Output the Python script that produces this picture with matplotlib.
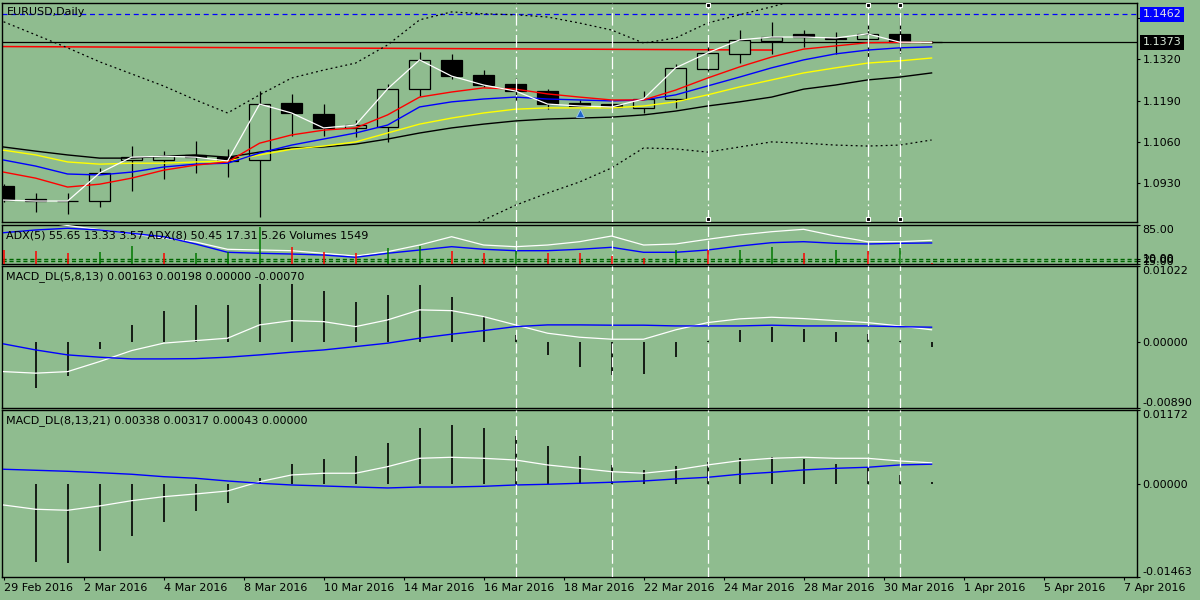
import matplotlib
matplotlib.use('Agg')
import matplotlib.pyplot as plt
import numpy as np

# daily EURUSD candles, 29 Feb 2016 .. 1 Apr 2016
opens = [1.0921, 1.0880, 1.0875, 1.0874, 1.1003, 1.1003, 1.1019, 1.1012, 1.1003, 1.1182,
         1.1148, 1.1104, 1.1107, 1.1227, 1.1318, 1.1271, 1.1242, 1.1220, 1.1182, 1.1179,
         1.1167, 1.1195, 1.1289, 1.1337, 1.1378, 1.1400, 1.1384, 1.1384, 1.1400, 1.1374]
highs = [1.0927, 1.0899, 1.0899, 1.0978, 1.1047, 1.1031, 1.1063, 1.1038, 1.1220, 1.1211,
         1.1179, 1.1129, 1.1242, 1.1343, 1.1337, 1.1286, 1.1261, 1.1227, 1.1192, 1.1186,
         1.1220, 1.1305, 1.1368, 1.1412, 1.1437, 1.1412, 1.1406, 1.1431, 1.1453, 1.1376]
lows = [1.0870, 1.0839, 1.0833, 1.0855, 1.0905, 1.0943, 1.0962, 1.0949, 1.0823, 1.1079,
        1.1079, 1.1075, 1.1060, 1.1204, 1.1258, 1.1233, 1.1186, 1.1164, 1.1170, 1.1164,
        1.1151, 1.1167, 1.1283, 1.1308, 1.1337, 1.1359, 1.1337, 1.1324, 1.1340, 1.1372]
closes = [1.0877, 1.0874, 1.0874, 1.0962, 1.1012, 1.1015, 1.1012, 1.1000, 1.1179, 1.1151,
          1.1104, 1.1113, 1.1227, 1.1318, 1.1267, 1.1239, 1.1220, 1.1179, 1.1173, 1.1170,
          1.1195, 1.1293, 1.1340, 1.1381, 1.1390, 1.1390, 1.1387, 1.1400, 1.1374, 1.1373]

ma_red = [1.0965, 1.0946, 1.0918, 1.0927, 1.0946, 1.0971, 1.0987, 1.0997, 1.1056, 1.1082,
          1.1097, 1.1104, 1.1145, 1.1201, 1.1217, 1.1230, 1.1226, 1.1211, 1.1201, 1.1192,
          1.1192, 1.1223, 1.1261, 1.1296, 1.1327, 1.1352, 1.1362, 1.1372, 1.1373, 1.1373]
ma_blue = [1.1003, 1.0984, 1.0959, 1.0956, 1.0965, 1.0981, 1.0990, 1.0993, 1.1025, 1.1050,
           1.1069, 1.1088, 1.1113, 1.1170, 1.1186, 1.1195, 1.1201, 1.1195, 1.1192, 1.1189,
           1.1192, 1.1208, 1.1236, 1.1264, 1.1293, 1.1318, 1.1337, 1.1349, 1.1356, 1.1359]
ma_yellow = [1.1034, 1.1019, 1.0997, 1.0990, 1.0993, 1.0993, 1.0997, 1.1000, 1.1019, 1.1037,
             1.1047, 1.1060, 1.1088, 1.1116, 1.1135, 1.1151, 1.1163, 1.1167, 1.1167, 1.1167,
             1.1173, 1.1186, 1.1208, 1.1233, 1.1255, 1.1277, 1.1293, 1.1308, 1.1315, 1.1324]
ma_black = [1.1044, 1.1031, 1.1019, 1.1009, 1.1009, 1.1015, 1.1019, 1.1012, 1.1028, 1.1041,
            1.1044, 1.1053, 1.1069, 1.1088, 1.1104, 1.1116, 1.1126, 1.1132, 1.1135, 1.1138,
            1.1145, 1.1157, 1.1173, 1.1186, 1.1201, 1.1226, 1.1239, 1.1255, 1.1264, 1.1277]
band_upper = [1.1438, 1.1397, 1.1356, 1.1312, 1.1274, 1.1236, 1.1192, 1.1151, 1.1208, 1.1261,
              1.1286, 1.1308, 1.1365, 1.1444, 1.1469, 1.1463, 1.1460, 1.1453, 1.1434, 1.1412,
              1.1371, 1.1387, 1.1434, 1.1460, 1.1485, 1.1513, 1.1532, 1.1545, 1.1554, 1.1560]
band_lower = [None, None, None, None, None, None, None, None, None, None,
              None, None, None, 1.0719, 1.0767, 1.0814, 1.0861, 1.0899, 1.0934, 1.0978,
              1.1041, 1.1038, 1.1028, 1.1044, 1.1060, 1.1056, 1.1050, 1.1047, 1.1050, 1.1066]

adx5 = [98, 92, 84, 76, 68, 60, 52.3, 38.3, 36.9, 35.6, 30.6, 25.4, 33.7, 46.5, 62.5,
        46.5, 43.3, 46.5, 52.9, 63.8, 46.5, 48.5, 57.5, 65.8, 72.1, 76.7, 63.8, 52.9, 52.9, 55.65]
adx8 = [70.2, 75.4, 78.7, 75.4, 69.0, 62.5, 48.5, 32.5, 30.6, 29.2, 27.3, 22.9, 30.6, 36.9, 43.3,
        38.3, 35.6, 35.6, 38.3, 42.1, 32.5, 32.5, 36.9, 44.6, 51.0, 52.9, 49.8, 48.5, 49.8, 50.45]
volumes = [17000, 15470, 13450, 14640, 21420, 12730, 12900, 13920, 43670, 20590,
           14640, 12730, 18680, 21780, 15830, 13450, 15830, 13450, 13300, 9520,
           6780, 16660, 16400, 16700, 20590, 12730, 16660, 15470, 19400, 1549]

macd1_main = [-0.00400, -0.00421, -0.00400, -0.00265, -0.00117, -0.00017, 0.00017, 0.00050, 0.00229, 0.00287,
              0.00273, 0.00206, 0.00296, 0.00431, 0.00421, 0.00341, 0.00229, 0.00117, 0.00063, 0.00036,
              0.00036, 0.00162, 0.00260, 0.00310, 0.00332, 0.00314, 0.00287, 0.00260, 0.00215, 0.00163]
macd1_signal = [-0.00027, -0.00108, -0.00175, -0.00206, -0.00229, -0.00229, -0.00225, -0.00206, -0.00175, -0.00139,
                -0.00108, -0.00063, -0.00017, 0.00050, 0.00104, 0.00152, 0.00206, 0.00229, 0.00229, 0.00225,
                0.00225, 0.00215, 0.00215, 0.00215, 0.00225, 0.00215, 0.00215, 0.00215, 0.00205, 0.00198]
macd1_hist = [0.0, -0.00615, -0.00454, -0.00094, 0.00225, 0.00421, 0.00498, 0.00498, 0.00781, 0.00781,
              0.00686, 0.00538, 0.00633, 0.00767, 0.00602, 0.00350, 0.00094, -0.00175, -0.00332, -0.00444,
              -0.00431, -0.00198, 0.00010, 0.00162, 0.00198, 0.00175, 0.00135, 0.00108, 0.00010, -0.00070]

macd2_main = [-0.00327, -0.00394, -0.00410, -0.00342, -0.00259, -0.00196, -0.00153, -0.00106, 0.00041, 0.00147,
              0.00174, 0.00174, 0.00278, 0.00410, 0.00426, 0.00410, 0.00383, 0.00305, 0.00252, 0.00199,
              0.00174, 0.00226, 0.00305, 0.00372, 0.00410, 0.00426, 0.00410, 0.00410, 0.00368, 0.00338]
macd2_signal = [0.00237, 0.00221, 0.00205, 0.00183, 0.00158, 0.00120, 0.00095, 0.00052, 0.00016, -0.00011,
                -0.00027, -0.00043, -0.00058, -0.00043, -0.00043, -0.00032, -0.00011, 0.00000, 0.00016, 0.00032,
                0.00052, 0.00084, 0.00110, 0.00158, 0.00189, 0.00226, 0.00252, 0.00268, 0.00305, 0.00317]
macd2_hist = [0.0, -0.01221, -0.01237, -0.01048, -0.00811, -0.00590, -0.00421, -0.00290, 0.00104, 0.00320,
              0.00399, 0.00446, 0.00647, 0.00884, 0.00936, 0.00884, 0.00762, 0.00604, 0.00446, 0.00305,
              0.00226, 0.00289, 0.00347, 0.00420, 0.00436, 0.00399, 0.00316, 0.00278, 0.00147, 0.00043]

date_labels = ['29 Feb 2016', '2 Mar 2016', '4 Mar 2016', '8 Mar 2016', '10 Mar 2016',
               '14 Mar 2016', '16 Mar 2016', '18 Mar 2016', '22 Mar 2016', '24 Mar 2016',
               '28 Mar 2016', '30 Mar 2016', '1 Apr 2016', '5 Apr 2016', '7 Apr 2016']
price_ticks = [1.1450, 1.1320, 1.1190, 1.1060, 1.0930]
price_range = (1.0808, 1.1498)
adx_ticks = [85, 20, 15, 10]
adx_levels = [20, 15]
macd1_range = (-0.00890, 0.01022)
macd2_range = (-0.01463, 0.01172)

blue_level = 1.1462
bid = 1.1373
trend_x = [0, 24]
trend_y = [1.1360, 1.1349]
vline_bars = [16, 19, 22, 27, 28]
selected_bars = [22, 27, 28]
arrow_bar, arrow_price = 18, 1.1151

BG = '#8FBC8F'
XMIN, XMAX = -0.05, 35.42
plt.rcParams['font.family'] = 'DejaVu Sans'

fig = plt.figure(figsize=(12, 6), dpi=100, facecolor=BG)


def panel(top, bottom):
    return fig.add_axes([2 / 1200, 1 - bottom / 600, 1135 / 1200, (bottom - top) / 600], facecolor=BG)


ax = panel(2.7, 222)
ax_adx = panel(225, 264)
ax_vol = ax_adx.twinx()
ax_m1 = panel(266, 408)
ax_m2 = panel(410, 577)


def style(a, lo, hi, ticks, fmt, edge_labels=True):
    a.set_xlim(XMIN, XMAX)
    a.set_ylim(lo, hi)
    for s in a.spines.values():
        s.set_color('black')
        s.set_linewidth(1.0)
    a.yaxis.tick_right()
    a.set_yticks(ticks)
    a.set_yticklabels([fmt % t for t in ticks])
    a.tick_params(axis='y', direction='out', length=2.5, width=0.8, pad=1.5,
                  labelsize=8, colors='black')
    a.tick_params(axis='x', bottom=False, labelbottom=False)
    if edge_labels:
        for lbl, t in zip(a.get_yticklabels(), ticks):
            if t == hi:
                lbl.set_va('top')
            elif t == lo:
                lbl.set_va('bottom')


def title(a, text, dy):
    a.annotate(text, xy=(0, 1), xycoords='axes fraction', xytext=(4.5, -dy),
               textcoords='offset pixels', va='center', ha='left', fontsize=8, zorder=20)


x = np.arange(len(closes))

# --- main price window
o, h, l, c = (np.array(v) for v in (opens, highs, lows, closes))
up = c >= o
ax.vlines(x, l, h, color='black', lw=0.9, zorder=2)
ax.bar(x[up], (c - o)[up], bottom=o[up], width=0.68, facecolor=BG,
       edgecolor='black', lw=0.9, zorder=3)
ax.bar(x[~up], (o - c)[~up], bottom=c[~up], width=0.68, facecolor='black',
       edgecolor='black', lw=0.9, zorder=3)

ax.axhline(blue_level, color='#0000FF', lw=0.9, ls=(0, (4, 3)), zorder=1)
ax.axhline(bid, color='black', lw=0.9, zorder=1)
ax.plot(trend_x, trend_y, color='red', lw=1.1, zorder=1)

ax.plot(x, np.array(band_upper, dtype=float), color='black', lw=0.9, ls=(0, (1.5, 2.5)), zorder=4)
ax.plot(x, np.array(band_lower, dtype=float), color='black', lw=0.9, ls=(0, (1.5, 2.5)), zorder=4)
ax.plot(x, ma_black, color='black', lw=1.0, zorder=4)
ax.plot(x, ma_yellow, color='yellow', lw=1.0, zorder=4)
ax.plot(x, ma_blue, color='#0000FF', lw=1.0, zorder=4)
ax.plot(x, ma_red, color='red', lw=1.0, zorder=4)
ax.plot(x, closes, color='white', lw=0.9, zorder=4.5)
ax.plot(arrow_bar, arrow_price, marker='^', ms=6, color='#1E64C8', mec='#9EC8F0',
        mew=0.6, zorder=6)

for b in vline_bars:
    ax.axvline(b, color='white', lw=0.9, ls=(0, (10, 3, 1.5, 3)), zorder=5)
for yy in (0.988, 0.013):
    ax.plot(selected_bars, [yy] * len(selected_bars), 's', ms=3.5, mfc='black', mec='white',
            mew=0.8, transform=ax.get_xaxis_transform(), zorder=7, clip_on=False)

style(ax, price_range[0], price_range[1], price_ticks, '%.4f', edge_labels=False)
ytr = ax.get_yaxis_transform()
ax.text(1.0048, blue_level, '%.4f' % blue_level, transform=ytr, va='center', ha='left',
        fontsize=8, color='#E4E4E4', clip_on=False, zorder=10,
        bbox=dict(boxstyle='square,pad=0.22', fc='#0000FF', ec='none'))
ax.text(1.0048, bid, '%.4f' % bid, transform=ytr, va='center', ha='left',
        fontsize=8, color='#D8E8D8', clip_on=False, zorder=10,
        bbox=dict(boxstyle='square,pad=0.22', fc='black', ec='none'))
title(ax, 'EURUSD,Daily', 9.3)

# --- ADX + volumes window
for lev in adx_levels:
    ax_adx.axhline(lev, color='#006400', lw=1.0, ls=(0, (3, 2)), zorder=1)
ax_adx.plot(x, adx5, color='white', lw=0.9, zorder=3)
ax_adx.plot(x, adx8, color='#0000FF', lw=1.0, zorder=3)
for b in vline_bars:
    ax_adx.axvline(b, color='white', lw=0.9, ls=(0, (8, 3)), zorder=5)
style(ax_adx, 10, 85, adx_ticks, '%.2f')

vol = np.array(volumes)
vol_colors = ['#007800' if i > 0 and vol[i] > vol[i - 1] else '#FF0000' for i in range(len(vol))]
ax_vol.vlines(x, 0, vol, colors=vol_colors, lw=1.1)
ax_vol.set_xlim(XMIN, XMAX)
ax_vol.set_ylim(0, 46400)
ax_vol.axis('off')
title(ax_vol, 'ADX(5) 55.65 13.33 3.57 ADX(8) 50.45 17.31 5.26 Volumes 1549', 10.7)

# --- MACD windows
for a, main, sig, hist, rng, name in (
        (ax_m1, macd1_main, macd1_signal, macd1_hist, macd1_range,
         'MACD_DL(5,8,13) 0.00163 0.00198 0.00000 -0.00070'),
        (ax_m2, macd2_main, macd2_signal, macd2_hist, macd2_range,
         'MACD_DL(8,13,21) 0.00338 0.00317 0.00043 0.00000')):
    a.vlines(x, 0, hist, color='black', lw=1.2, zorder=2)
    a.plot(x, main, color='white', lw=0.9, zorder=3)
    a.plot(x, sig, color='#0000FF', lw=1.0, zorder=3)
    for b in vline_bars:
        a.axvline(b, color='white', lw=0.9, ls=(0, (8, 3)), zorder=5)
    style(a, rng[0], rng[1], [rng[1], 0.0, rng[0]], '%.5f')
    title(a, name, 11)

ax_m2.tick_params(axis='x', bottom=True, labelbottom=True, direction='out', length=2.5,
                  width=0.8, pad=2, labelsize=8, colors='black')
ax_m2.set_xticks(np.arange(len(date_labels)) * 2.5)
ax_m2.set_xticklabels(date_labels)
for lbl in ax_m2.get_xticklabels():
    lbl.set_ha('left')

fig.savefig('out.png', dpi=100, facecolor=BG)
